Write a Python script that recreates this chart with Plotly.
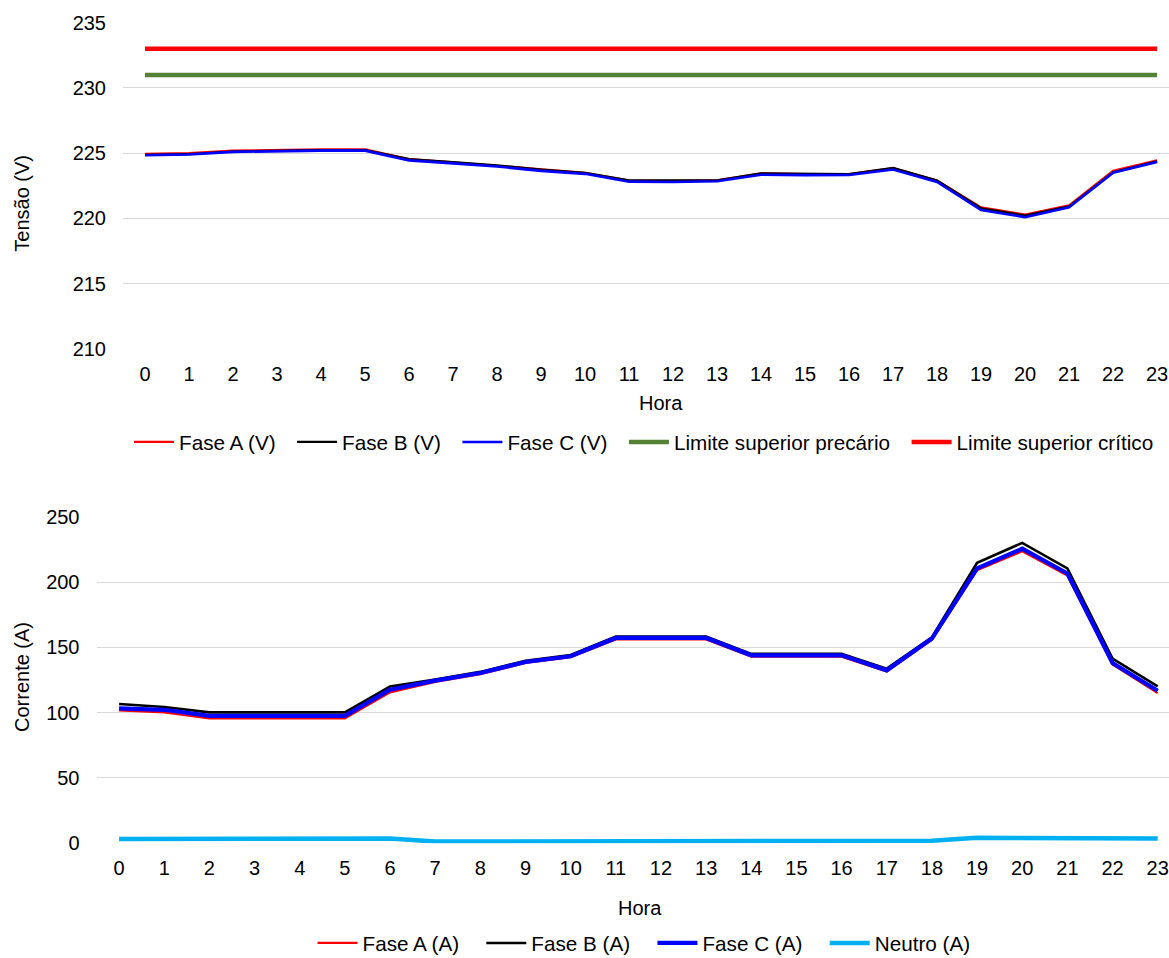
import plotly.graph_objects as go

horas = list(range(24))
hora_labels = [str(h) for h in horas]

# Tensão (V)
fase_a_v = [224.95, 225.0, 225.2, 225.27, 225.3, 225.3, 224.55, 224.3, 224.05, 223.75, 223.5, 222.9,
            222.88, 222.92, 223.45, 223.4, 223.4, 223.85, 222.9, 220.85, 220.3, 221.0, 223.65, 224.45]
fase_b_v = [224.88, 224.93, 225.13, 225.2, 225.23, 225.23, 224.55, 224.32, 224.08, 223.75, 223.5, 222.92,
            222.9, 222.93, 223.45, 223.4, 223.4, 223.88, 222.9, 220.78, 220.22, 220.93, 223.55, 224.38]
fase_c_v = [224.85, 224.9, 225.1, 225.17, 225.2, 225.2, 224.45, 224.22, 223.98, 223.65, 223.42, 222.82,
            222.8, 222.85, 223.35, 223.32, 223.33, 223.75, 222.8, 220.65, 220.1, 220.85, 223.5, 224.32]
limite_precario = [231] * 24
limite_critico = [233] * 24

# Corrente (A)
fase_a_a = [101.7, 100.2, 95.6, 95.6, 95.6, 95.6, 115.5, 123.5, 129.5, 138.0, 142.5, 156.0,
            156.0, 156.0, 142.8, 142.8, 142.8, 131.5, 155.8, 209.0, 223.5, 205.0, 136.8, 115.0]
fase_b_a = [106.6, 104.3, 100.2, 100.2, 100.2, 100.2, 120.1, 125.3, 131.2, 139.8, 144.2, 158.2,
            158.2, 158.2, 145.0, 145.0, 145.0, 133.7, 157.7, 214.7, 230.0, 210.4, 141.4, 120.1]
fase_c_a = [103.3, 102.2, 97.6, 97.6, 97.6, 97.6, 117.6, 124.5, 130.4, 138.8, 143.2, 157.2,
            157.2, 157.2, 143.9, 143.9, 143.9, 132.4, 156.7, 210.4, 225.5, 206.5, 138.0, 116.8]
neutro_a = [3.3, 3.3, 3.3, 3.3, 3.3, 3.3, 3.6, 1.3, 1.4, 1.5, 1.5, 1.8,
            1.8, 1.8, 1.6, 1.6, 1.6, 1.6, 1.9, 4.3, 4.3, 4.1, 3.6, 3.6]

W, H = 1169, 958
FONT = "Liberation Sans, Arial, sans-serif"
TXT = "#000000"
GRID = "#D9D9D9"
NB = "\u00a0"

fig = go.Figure()

def add(y, name, color, width, xa, ya, legend, pad):
    fig.add_trace(go.Scatter(x=horas, y=y, name=name + NB * pad, mode="lines",
                             line=dict(color=color, width=width),
                             xaxis=xa, yaxis=ya, legend=legend))

add(fase_a_v, "Fase A (V)", "#FF0000", 2.2, "x", "y", "legend", 2)
add(fase_b_v, "Fase B (V)", "#000000", 2.2, "x", "y", "legend", 2)
add(fase_c_v, "Fase C (V)", "#0000FF", 2.6, "x", "y", "legend", 2)
add(limite_precario, "Limite superior precário", "#548235", 4.5, "x", "y", "legend", 2)
add(limite_critico, "Limite superior crítico", "#FF0000", 4.5, "x", "y", "legend", 0)

add(fase_a_a, "Fase A (A)", "#FF0000", 2.2, "x2", "y2", "legend2", 3)
add(fase_b_a, "Fase B (A)", "#000000", 2.6, "x2", "y2", "legend2", 3)
add(fase_c_a, "Fase C (A)", "#0000FF", 4.2, "x2", "y2", "legend2", 3)
add(neutro_a, "Neutro (A)", "#00B0F0", 4.5, "x2", "y2", "legend2", 0)

xcommon = dict(tickmode="array", tickvals=horas, ticktext=hora_labels, showgrid=False,
               zeroline=False, showline=False, ticks="", tickfont=dict(size=20, color=TXT, family=FONT),
               ticklabelstandoff=11, fixedrange=True, automargin=False)
ycommon = dict(showgrid=True, gridcolor=GRID, gridwidth=1, zeroline=False, showline=False, ticks="",
               tickfont=dict(size=20, color=TXT, family=FONT), ticklabelstandoff=16, fixedrange=True,
               automargin=False)

LEGFONT = dict(size=20.7, color=TXT, family=FONT)

fig.update_layout(
    width=W, height=H,
    margin=dict(l=0, r=0, t=0, b=0, autoexpand=False),
    paper_bgcolor="white", plot_bgcolor="white",
    font=dict(family=FONT, size=20, color=TXT),
    xaxis=dict(domain=[123 / W, 1], range=[-0.5, 23.27], anchor="y", **xcommon),
    yaxis=dict(domain=[1 - 349 / H, 1 - 22.7 / H], range=[210, 235], dtick=5, anchor="x", **ycommon),
    xaxis2=dict(domain=[96.5 / W, 1], range=[-0.5, 23.25], anchor="y2", **xcommon),
    yaxis2=dict(domain=[1 - 843.3 / H, 1 - 516.7 / H], range=[0, 250], dtick=50, anchor="x2", **ycommon),
    legend=dict(orientation="h", x=644 / W, xanchor="center", y=1 - 442 / H, yanchor="middle",
                font=LEGFONT, bgcolor="rgba(0,0,0,0)", itemwidth=40),
    legend2=dict(orientation="h", x=644 / W, xanchor="center", y=1 - 943 / H, yanchor="middle",
                 font=LEGFONT, bgcolor="rgba(0,0,0,0)", itemwidth=40),
    showlegend=True,
    annotations=[
        dict(text="Tensão (V)", x=21.7 / W, y=1 - 203 / H, xref="paper", yref="paper", textangle=-90,
             showarrow=False, xanchor="center", yanchor="middle", font=dict(size=20, color=TXT, family=FONT)),
        dict(text="Corrente (A)", x=22 / W, y=1 - 677 / H, xref="paper", yref="paper", textangle=-90,
             showarrow=False, xanchor="center", yanchor="middle", font=dict(size=20, color=TXT, family=FONT)),
        dict(text="Hora", x=661 / W, y=1 - 403 / H, xref="paper", yref="paper",
             showarrow=False, xanchor="center", yanchor="middle", font=dict(size=20, color=TXT, family=FONT)),
        dict(text="Hora", x=640 / W, y=1 - 908 / H, xref="paper", yref="paper",
             showarrow=False, xanchor="center", yanchor="middle", font=dict(size=20, color=TXT, family=FONT)),
    ],
)

fig.write_html("out.html")
